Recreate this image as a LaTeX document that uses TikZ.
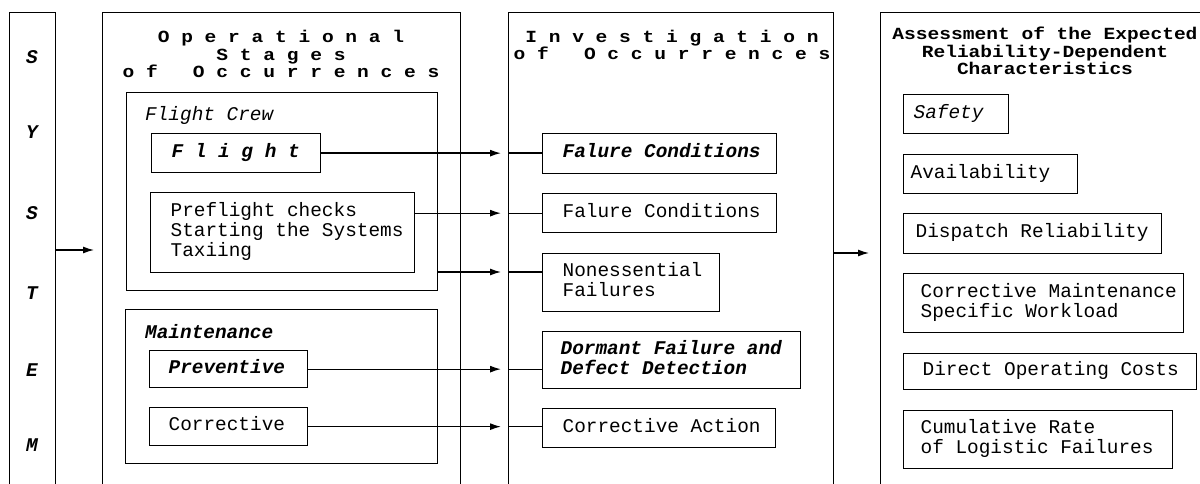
\documentclass[tikz,border=0pt]{standalone}
\usepackage{fontspec}
\setmainfont{Liberation Mono}
\newfontfamily\hdrfont[FakeStretch=1.15]{Liberation Mono}
\usetikzlibrary{arrows.meta}
\newcommand{\bodyfont}{\fontsize{19.4}{20}\selectfont}
\newcommand{\bxt}[3]{\makebox[#1][l]{\hspace*{#2}\begin{tabular}{@{}l@{}}#3\end{tabular}}}
\tikzset{
  bx/.style={draw, line width=1.3pt, inner sep=0pt, anchor=north west, font=\bodyfont},
  frm/.style={draw, line width=1.3pt, inner sep=0pt, anchor=north west},
  arr/.style={line width=1.3pt, -{Latex[length=11pt,width=7pt]}},
  ln/.style={line width=1.3pt},
  hdr/.style={font=\hdrfont\bfseries\fontsize{17}{17.5}\selectfont, align=center, inner sep=0pt},
  sysl/.style={font=\bodyfont\bfseries\itshape, inner sep=0pt},
  lbl/.style={anchor=west, inner sep=0pt},
}
\begin{document}
\begin{tikzpicture}[x=1pt,y=-1pt]
\useasboundingbox (0,0) rectangle (1200,484);
\clip (0,0) rectangle (1200,484);

% big frames
\node[frm, minimum width=46pt, minimum height=480pt] (sys) at (9,12) {};
\node[frm, minimum width=358pt, minimum height=480pt] (op) at (102,12) {};
\node[frm, minimum width=325pt, minimum height=480pt] (inv) at (508,12) {};
\node[frm, minimum width=330pt, minimum height=480pt] (ass) at (880,12) {};

% SYSTEM letters
\node[sysl] (s1) at (32,57) {S};
\node[sysl] (s2) at (32,132) {Y};
\node[sysl] (s3) at (32,213) {S};
\node[sysl] (s4) at (32,293) {T};
\node[sysl] (s5) at (32,370) {E};
\node[sysl] (s6) at (32,445) {M};

% headers
\node[hdr] (h1) at (281,54) {O~p~e~r~a~t~i~o~n~a~l\\S~t~a~g~e~s\\o~f~~~O~c~c~u~r~r~e~n~c~e~s};
\node[hdr] (h2) at (672,45) {I~n~v~e~s~t~i~g~a~t~i~o~n\\o~f~~~O~c~c~u~r~r~e~n~c~e~s};
\node[hdr] (h3) at (1045,51) {Assessment of the Expected\\Reliability-Dependent\\Characteristics};

% flight crew group
\node[frm, minimum width=311pt, minimum height=198pt] (fcrew) at (126,92) {};
\node[lbl, font=\bodyfont\itshape] (fcl) at (145,115) {Flight Crew};
\node[bx, font=\bodyfont\bfseries\itshape, minimum height=39pt] (flight) at (151,133) {\bxt{169pt}{20pt}{F~l~i~g~h~t}};
\node[bx, minimum height=80pt] (pre) at (150,192) {\bxt{264pt}{20pt}{Preflight checks\\Starting the Systems\\Taxiing}};

% maintenance group
\node[frm, minimum width=312pt, minimum height=154pt] (maint) at (125,309) {};
\node[lbl, font=\bodyfont\bfseries\itshape] (mtl) at (145,332) {Maintenance};
\node[bx, font=\bodyfont\bfseries\itshape, minimum height=37pt] (prev) at (149,350) {\bxt{158pt}{19pt}{Preventive}};
\node[bx, minimum height=38pt] (corr) at (149,407) {\bxt{158pt}{19pt}{Corrective}};

% investigation boxes
\node[bx, font=\bodyfont\bfseries\itshape, minimum height=40pt] (fc1) at (542,133) {\bxt{234pt}{20pt}{Falure Conditions}};
\node[bx, minimum height=39pt] (fc2) at (542,193) {\bxt{234pt}{20pt}{Falure Conditions}};
\node[bx, minimum height=58pt] (ne) at (542,253) {\bxt{177pt}{20pt}{Nonessential\\Failures}};
\node[bx, font=\bodyfont\bfseries\itshape, minimum height=57pt] (dorm) at (542,331) {\bxt{258pt}{18pt}{Dormant Failure and\\Defect Detection}};
\node[bx, minimum height=39pt] (ca) at (542,408) {\bxt{233pt}{20pt}{Corrective Action}};

% assessment boxes
\node[bx, font=\bodyfont\itshape, minimum height=39pt] (saf) at (903,94) {\bxt{105pt}{10pt}{Safety}};
\node[bx, minimum height=39pt] (avl) at (903,154) {\bxt{174pt}{7pt}{Availability}};
\node[bx, minimum height=40pt] (dsp) at (903,213) {\bxt{258pt}{12pt}{Dispatch Reliability}};
\node[bx, minimum height=59pt] (cmw) at (903,273) {\bxt{280pt}{17pt}{Corrective Maintenance\\Specific Workload}};
\node[bx, minimum height=36pt] (doc) at (903,353) {\bxt{293pt}{19pt}{Direct Operating Costs}};
\node[bx, minimum height=58pt] (cum) at (903,410) {\bxt{269pt}{17pt}{Cumulative Rate\\of Logistic Failures}};

% connectors
\draw[arr, shorten >=8pt] (sys.east |- 0,250) -- (op.west |- 0,250);

\draw[arr, shorten >=7pt] (flight.east) -- (flight.east -| inv.west);
\draw[ln] (flight.east -| inv.west) -- (fc1.west |- flight.east);

\draw[arr, shorten >=7pt] (pre.east |- fc2.west) -- (inv.west |- fc2.west);
\draw[ln] (inv.west |- fc2.west) -- (fc2.west);

\coordinate (yne) at (0,272);
\draw[arr, shorten >=7pt] (fcrew.east |- yne) -- (inv.west |- yne);
\draw[ln] (inv.west |- yne) -- (ne.west |- yne);

\draw[arr, shorten >=7pt] (prev.east) -- (inv.west |- prev.east);
\draw[ln] (inv.west |- prev.east) -- (dorm.west |- prev.east);

\draw[arr, shorten >=7pt] (corr.east) -- (inv.west |- corr.east);
\draw[ln] (inv.west |- corr.east) -- (ca.west |- corr.east);

\draw[arr, shorten >=11pt] (inv.east |- 0,253) -- (ass.west |- 0,253);
\end{tikzpicture}
\end{document}
